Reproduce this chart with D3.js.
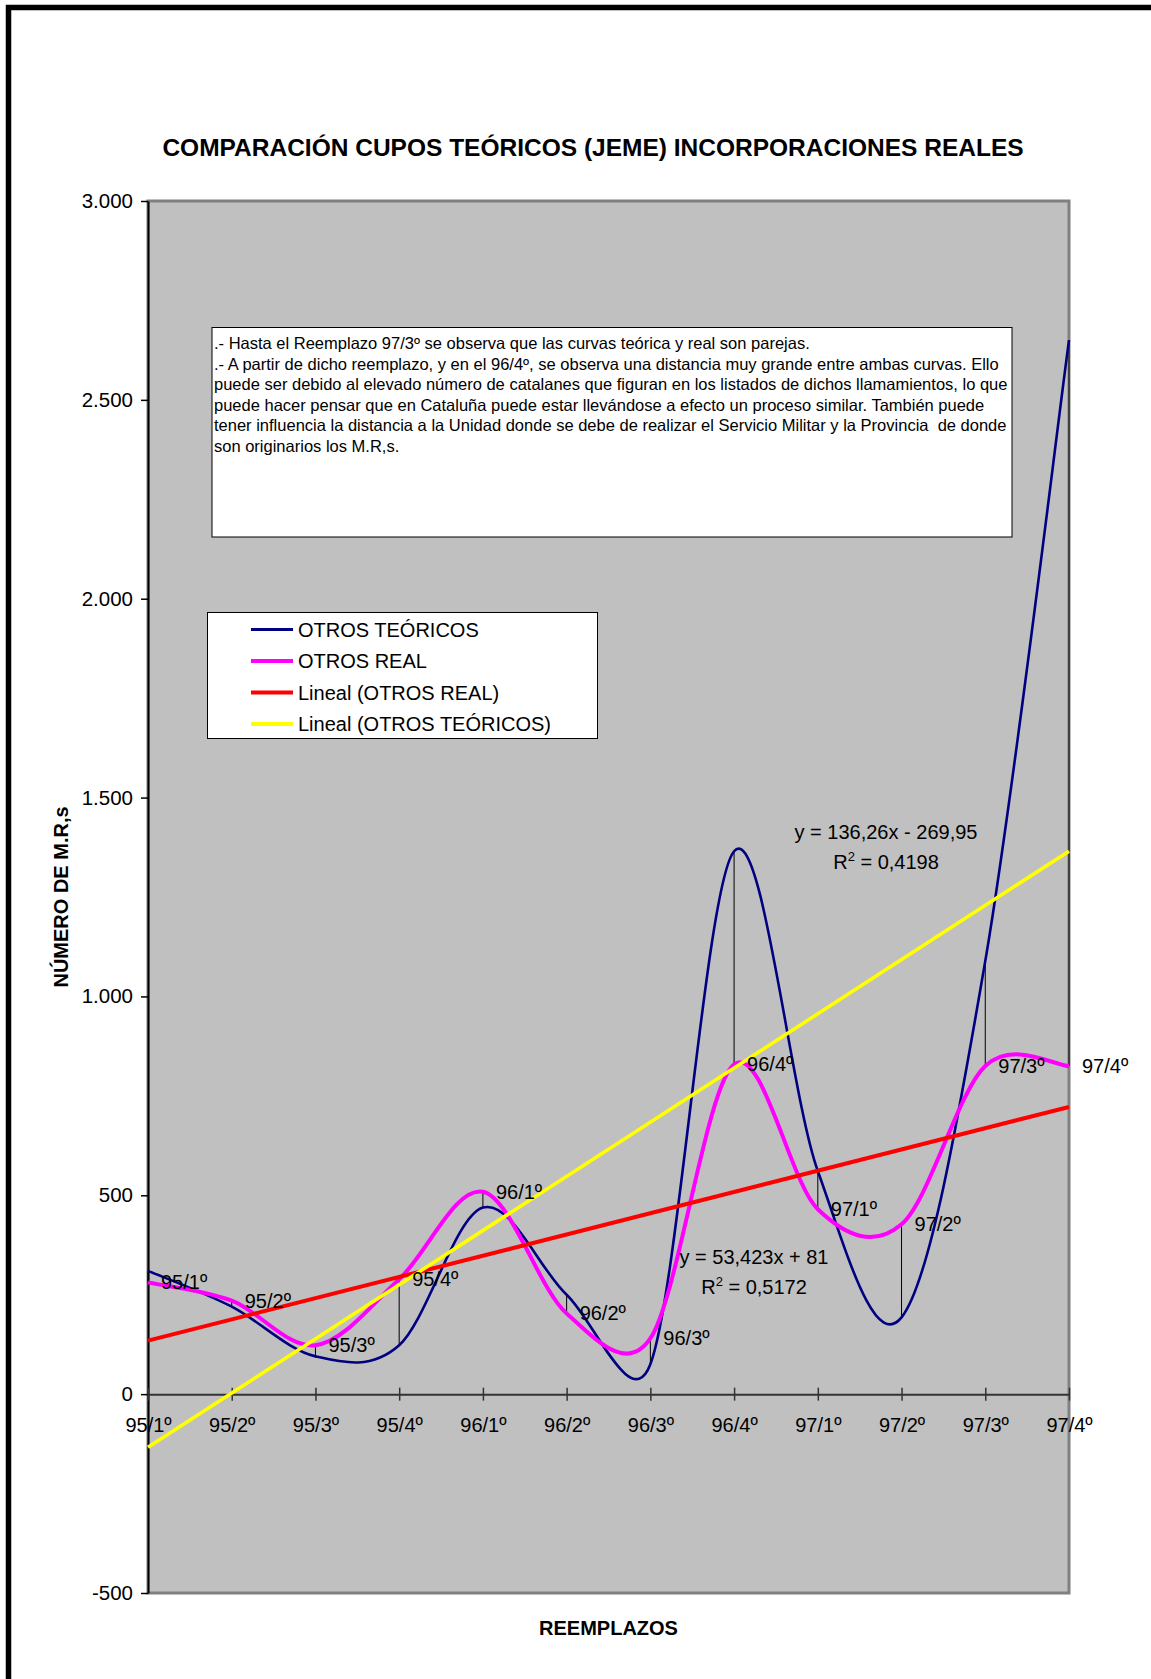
<!DOCTYPE html>
<html><head><meta charset="utf-8">
<script src="https://cdn.jsdelivr.net/npm/d3@7"></script>
<style>body{margin:0;background:#fff}svg{display:block}</style>
</head><body>
<svg id="chart" width="1151" height="1679"></svg>
<script>
// ---- data ----
const categories = ["95/1º","95/2º","95/3º","95/4º","96/1º","96/2º","96/3º","96/4º","97/1º","97/2º","97/3º","97/4º"];
const otrosTeoricos = [310, 220, 95, 123, 469, 250, 75, 1365, 561, 193, 1089, 2650];
const otrosReal     = [281, 235, 123, 289, 509, 203, 140, 829, 465, 427, 825, 825];
const yTickValues = [-500, 0, 500, 1000, 1500, 2000, 2500, 3000];
// trendline coefficients as printed on the chart [slope, intercept]
const trendReal = [53.423, 81];
const trendTeoricos = [136.26, -269.95];
const eqReal = ["y = 53,423x + 81", "0,5172"];
const eqTeoricos = ["y = 136,26x - 269,95", "0,4198"];
const legendLabels = ["OTROS TEÓRICOS", "OTROS REAL", "Lineal (OTROS REAL)", "Lineal (OTROS TEÓRICOS)"];
const legendColors = ["#000080", "#FF00FF", "#FF0000", "#FFFF00"];
const noteLines = [
  ".- Hasta el Reemplazo 97/3º se observa que las curvas teórica y real son parejas.",
  ".- A partir de dicho reemplazo, y en el 96/4º, se observa una distancia muy grande entre ambas curvas. Ello",
  "puede ser debido al elevado número de catalanes que figuran en los listados de dichos llamamientos, lo que",
  "puede hacer pensar que en Cataluña puede estar llevándose a efecto un proceso similar. También puede",
  "tener influencia la distancia a la Unidad donde se debe de realizar el Servicio Militar y la Provincia  de donde",
  "son originarios los M.R,s."
];
const titleText = "COMPARACIÓN CUPOS TEÓRICOS (JEME) INCORPORACIONES REALES";
const xTitle = "REEMPLAZOS";
const yTitle = "NÚMERO DE M.R,s";

// ---- layout ----
const FONT = "'Liberation Sans', Arial, Helvetica, sans-serif";
const svg = d3.select("#chart");
const L = 148, R = 1069, T = 201, B = 1593;

const x = d3.scalePoint().domain(categories).range([L, R]).padding(0);
const xi = d3.scaleLinear().domain([1, categories.length]).range([L, R]);
const y = d3.scaleLinear().domain([-500, 3000]).range([B, T]);
const loc = d3.formatLocale({decimal: ",", thousands: ".", grouping: [3], currency: ["", ""], minus: "-"});
const fmt = loc.format(",");

// Excel-style smoothed line (Bezier, tension 1/6 with segment-length cap)
function excelSmooth(pts) {
  const p = d3.path();
  const n = pts.length;
  const dist = (a, b) => Math.hypot(a[0] - b[0], a[1] - b[1]);
  p.moveTo(pts[0][0], pts[0][1]);
  for (let i = 0; i < n - 1; i++) {
    const p0 = pts[Math.max(i - 1, 0)], p1 = pts[i], p2 = pts[i + 1], p3 = pts[Math.min(i + 2, n - 1)];
    const d12 = dist(p1, p2), d02 = dist(p0, p2), d13 = dist(p1, p3);
    const f0 = d02 > 0 ? Math.min(1 / 6, d12 / (2 * d02)) : 1 / 6;
    const f1 = d13 > 0 ? Math.min(1 / 6, d12 / (2 * d13)) : 1 / 6;
    p.bezierCurveTo(
      p1[0] + (p2[0] - p0[0]) * f0, p1[1] + (p2[1] - p0[1]) * f0,
      p2[0] - (p3[0] - p1[0]) * f1, p2[1] - (p3[1] - p1[1]) * f1,
      p2[0], p2[1]);
  }
  return p.toString();
}
const seriesPath = vals => excelSmooth(vals.map((v, i) => [x(categories[i]), y(v)]));

// outer frame
svg.append("rect").attr("x", 8.5).attr("y", 7.5).attr("width", 1300).attr("height", 1800)
  .attr("fill", "none").attr("stroke", "#000").attr("stroke-width", 5.5);

// title
svg.append("text").attr("x", 593).attr("y", 156).attr("text-anchor", "middle")
  .attr("font-family", FONT).attr("font-weight", "bold").attr("font-size", 24.5).text(titleText);

// plot area
svg.append("rect").attr("x", L).attr("y", T).attr("width", R - L).attr("height", B - T)
  .attr("fill", "#C0C0C0").attr("stroke", "#808080").attr("stroke-width", 3);

// y axis
const yAxis = svg.append("g").attr("transform", `translate(${L},0)`)
  .call(d3.axisLeft(y).tickValues(yTickValues).tickFormat(fmt).tickSize(7).tickSizeOuter(0).tickPadding(8));
yAxis.select(".domain").attr("stroke", "#000").attr("stroke-width", 2);
yAxis.selectAll(".tick line").attr("stroke", "#000").attr("stroke-width", 1.5);
yAxis.selectAll(".tick text").attr("font-family", FONT).attr("font-size", 20.5).attr("fill", "#000");

// x axis at y=0
const xAxis = svg.append("g").attr("transform", `translate(0,${y(0)})`)
  .call(d3.axisBottom(x).tickSize(0).tickPadding(0));
xAxis.select(".domain").attr("stroke", "#333").attr("stroke-width", 2);
xAxis.selectAll(".tick line").attr("y1", -6.5).attr("y2", 6.5).attr("stroke", "#333").attr("stroke-width", 1.5);
xAxis.selectAll(".tick text").attr("font-family", FONT).attr("font-size", 20).attr("fill", "#000")
  .attr("dy", null).attr("y", 38);

// high-low lines
svg.append("g").selectAll("line").data(categories).join("line")
  .attr("x1", d => x(d)).attr("x2", d => x(d))
  .attr("y1", (d, i) => y(otrosTeoricos[i])).attr("y2", (d, i) => y(otrosReal[i]))
  .attr("stroke", "#000").attr("stroke-width", 1);

svg.append("path").attr("d", seriesPath(otrosTeoricos))
  .attr("fill", "none").attr("stroke", legendColors[0]).attr("stroke-width", 2.6);
svg.append("path").attr("d", seriesPath(otrosReal))
  .attr("fill", "none").attr("stroke", legendColors[1]).attr("stroke-width", 4);

// trendlines
function trend(coef) {
  return [1, categories.length].map(k => [xi(k), y(coef[0] * k + coef[1])]);
}
svg.append("path").attr("d", d3.line()(trend(trendReal)))
  .attr("stroke", legendColors[2]).attr("stroke-width", 4).attr("fill", "none");
svg.append("path").attr("d", d3.line()(trend(trendTeoricos)))
  .attr("stroke", legendColors[3]).attr("stroke-width", 3.6).attr("fill", "none");

// data labels (category names next to OTROS REAL points)
svg.append("g").selectAll("text").data(categories).join("text")
  .attr("x", d => x(d) + 13).attr("y", (d, i) => y(otrosReal[i]) + 7)
  .attr("font-family", FONT).attr("font-size", 20).attr("fill", "#000").text(d => d);

// trend equations
function eq(cx, cy, lines) {
  const g = svg.append("g").attr("font-family", FONT).attr("font-size", 20).attr("fill", "#000").attr("text-anchor", "middle");
  g.append("text").attr("x", cx).attr("y", cy).text(lines[0]);
  const t = g.append("text").attr("x", cx).attr("y", cy + 30);
  t.append("tspan").text("R");
  t.append("tspan").attr("font-size", 13).attr("dy", -8).text("2");
  t.append("tspan").attr("dy", 8).text(" = " + lines[1]);
}
eq(886, 839, eqTeoricos);
eq(754, 1264, eqReal);

// note box
svg.append("rect").attr("x", 212).attr("y", 327.5).attr("width", 800).attr("height", 209.5)
  .attr("fill", "#fff").attr("stroke", "#000").attr("stroke-width", 1);
svg.append("g").selectAll("text").data(noteLines).join("text")
  .attr("x", 214).attr("y", (d, i) => 349 + i * 20.6)
  .attr("font-family", FONT).attr("font-size", 16.5).attr("fill", "#000")
  .attr("xml:space", "preserve").style("white-space", "pre").text(d => d);

// legend
svg.append("rect").attr("x", 207.5).attr("y", 612.5).attr("width", 390).attr("height", 126)
  .attr("fill", "#fff").attr("stroke", "#000").attr("stroke-width", 1);
const lg = svg.append("g").selectAll("g").data(legendLabels).join("g")
  .attr("transform", (d, i) => `translate(0,${629.5 + i * 31.5})`);
lg.append("line").attr("x1", 251).attr("x2", 293).attr("y1", 0).attr("y2", 0)
  .attr("stroke", (d, i) => legendColors[i]).attr("stroke-width", (d, i) => i === 0 ? 2.8 : 4);
lg.append("text").attr("x", 298).attr("y", 7).attr("font-family", FONT).attr("font-size", 20)
  .attr("fill", "#000").text(d => d);

// axis titles
svg.append("text").attr("x", (L + R) / 2).attr("y", 1635).attr("text-anchor", "middle")
  .attr("font-family", FONT).attr("font-weight", "bold").attr("font-size", 20).text(xTitle);
svg.append("text").attr("transform", "translate(68,897) rotate(-90)").attr("text-anchor", "middle")
  .attr("font-family", FONT).attr("font-weight", "bold").attr("font-size", 20).text(yTitle);
</script>
</body></html>
